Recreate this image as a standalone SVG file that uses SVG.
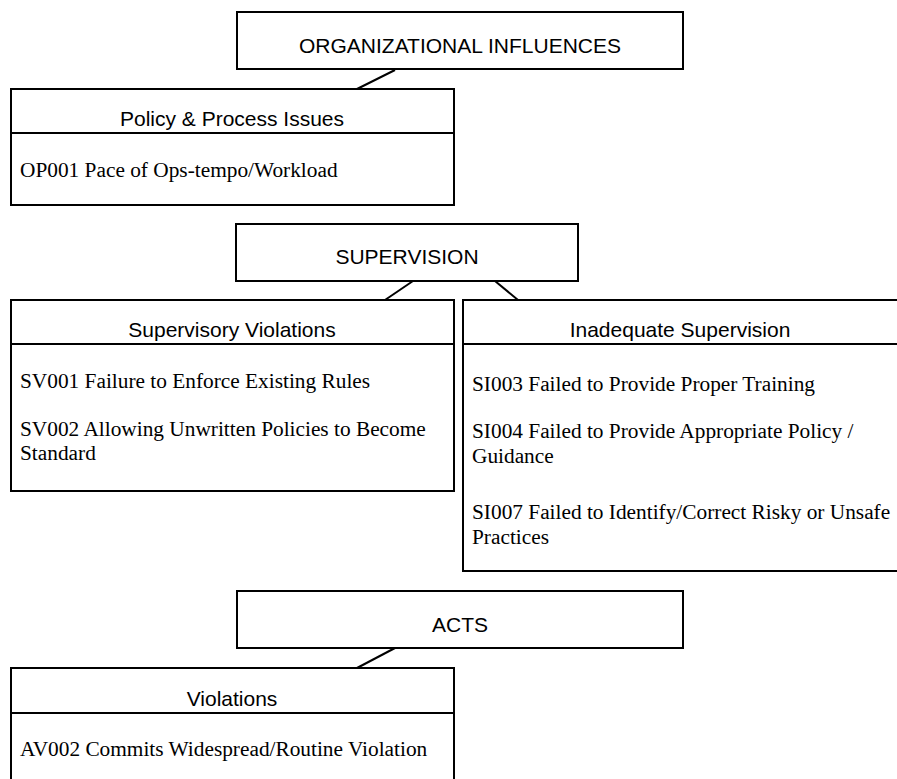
<svg xmlns="http://www.w3.org/2000/svg" width="897" height="779" viewBox="0 0 897 779">
  <style>
    .box { fill: #fff; stroke: #000; stroke-width: 2; }
    .rule { stroke: #000; stroke-width: 2; }
    .link { stroke: #000; stroke-width: 2; fill: none; }
    .head { font-family: "Liberation Sans", Arial, sans-serif; font-size: 21px; fill: #000; text-anchor: middle; }
    .item { font-family: "Liberation Serif", "Times New Roman", serif; font-size: 21.33px; fill: #000; }
  </style>
  <rect width="897" height="779" fill="#fff"/>

  <!-- tree connectors -->
  <g id="connectors">
    <line class="link" x1="395" y1="70" x2="357" y2="89"/>
    <line class="link" x1="413" y1="281" x2="385" y2="300"/>
    <line class="link" x1="495" y1="281" x2="518" y2="300"/>
    <line class="link" x1="395" y1="648" x2="357" y2="668"/>
  </g>

  <!-- level headings -->
  <g id="org-influences">
    <rect class="box" x="237" y="12" width="446" height="57"/>
    <text class="head" x="460" y="53">ORGANIZATIONAL INFLUENCES</text>
  </g>
  <g id="supervision">
    <rect class="box" x="236" y="224" width="342" height="57"/>
    <text class="head" x="407" y="264">SUPERVISION</text>
  </g>
  <g id="acts">
    <rect class="box" x="237" y="591" width="446" height="57"/>
    <text class="head" x="460" y="632">ACTS</text>
  </g>

  <!-- category boxes -->
  <g id="policy-process">
    <rect class="box" x="11" y="89" width="443" height="116"/>
    <line class="rule" x1="11" y1="133" x2="454" y2="133"/>
    <text class="head" x="232" y="126">Policy &amp; Process Issues</text>
    <text class="item" x="20" y="177">OP001 Pace of Ops-tempo/Workload</text>
  </g>

  <g id="supervisory-violations">
    <rect class="box" x="11" y="300" width="443" height="191"/>
    <line class="rule" x1="11" y1="344" x2="454" y2="344"/>
    <text class="head" x="232" y="337">Supervisory Violations</text>
    <text class="item" x="20" y="388">SV001 Failure to Enforce Existing Rules</text>
    <text class="item" x="20" y="436">SV002 Allowing Unwritten Policies to Become</text>
    <text class="item" x="20" y="460">Standard</text>
  </g>

  <g id="inadequate-supervision">
    <rect class="box" x="463" y="300" width="450" height="271"/>
    <line class="rule" x1="463" y1="344" x2="913" y2="344"/>
    <text class="head" x="680" y="337">Inadequate Supervision</text>
    <text class="item" x="472" y="391">SI003 Failed to Provide Proper Training</text>
    <text class="item" x="472" y="438">SI004 Failed to Provide Appropriate Policy /</text>
    <text class="item" x="472" y="463">Guidance</text>
    <text class="item" x="472" y="519">SI007 Failed to Identify/Correct Risky or Unsafe</text>
    <text class="item" x="472" y="544">Practices</text>
  </g>

  <g id="violations">
    <rect class="box" x="11" y="668" width="443" height="130"/>
    <line class="rule" x1="11" y1="713" x2="454" y2="713"/>
    <text class="head" x="232" y="706">Violations</text>
    <text class="item" x="20" y="756">AV002 Commits Widespread/Routine Violation</text>
  </g>
</svg>
